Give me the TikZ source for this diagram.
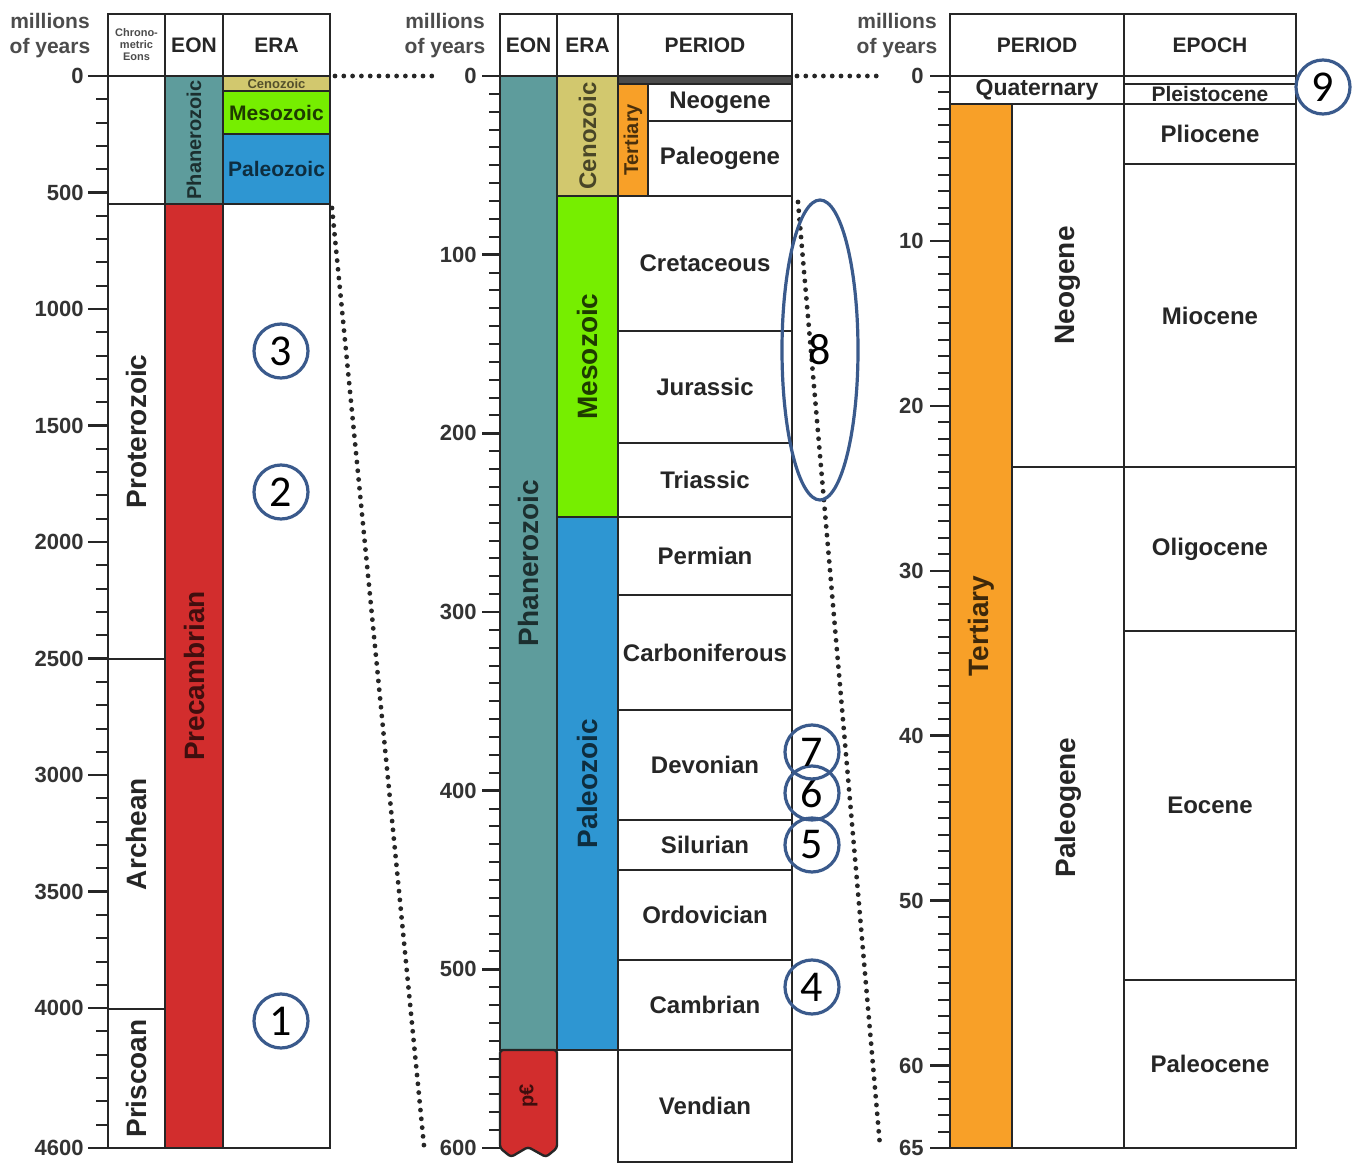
\documentclass[tikz,border=0pt]{standalone}
\usepackage{fontspec}
\setmainfont{Liberation Sans}
\newfontfamily\numfont{Carlito}
\usetikzlibrary{shapes.geometric}

\definecolor{phanero}{HTML}{5E9C9C}
\definecolor{precam}{HTML}{D22D2D}
\definecolor{meso}{HTML}{76EE00}
\definecolor{paleo}{HTML}{2E96D2}
\definecolor{ceno}{HTML}{D2C86E}
\definecolor{tert}{HTML}{F8A028}
\definecolor{circblue}{HTML}{3A5A8C}

% one box of the chart with its label in the middle
\newcommand{\gcell}[8][hlbl]{%
  \path[cellline, fill=#7] (#3,#4) rectangle (#5,#6);
  \node[#1] (#2) at ({(#3+#5)/2},{(#4+#6)/2}) {#8};}

\begin{document}
\begin{tikzpicture}[
        x=0.5pt, y=-0.5pt,
        cellline/.style={draw=black!85, line width=1.2pt},
        hlbl/.style={font=\fontsize{12}{14}\selectfont\bfseries, text=black!85, inner sep=0pt},
        hsmall/.style={font=\fontsize{10.5}{12}\selectfont\bfseries, text=black!85, inner sep=0pt},
        vlbl/.style={rotate=90, font=\fontsize{14}{16}\selectfont\bfseries, text=black!85, inner sep=0pt},
        vmid/.style={rotate=90, font=\fontsize{12}{14}\selectfont\bfseries, text=black!85, inner sep=0pt},
        vsmall/.style={rotate=90, font=\fontsize{10}{12}\selectfont\bfseries, text=black!85, inner sep=0pt},
        hdr/.style={font=\fontsize{10.5}{12}\selectfont\bfseries, text=black!85},
        tinyhdr/.style={align=center, font=\fontsize{5.5}{6}\selectfont\bfseries, text=black!70},
        unitlbl/.style={align=center, font=\fontsize{10.5}{12.5}\selectfont\bfseries, text=black!70},
        axlbl/.style={anchor=east, font=\fontsize{11}{12}\selectfont\bfseries, text=black!80, inner sep=0pt},
        minortk/.style={line width=1pt, black!85},
        majortk/.style={line width=1.2pt, black!85},
        zoomline/.style={line width=2.4pt, dash pattern=on 0pt off 4.4pt, line cap=round, black!85},
        numcirc/.style={circle, draw=circblue, line width=1.6pt, minimum size=27pt, inner sep=0pt,
            font=\numfont\fontsize{22}{22}\selectfont},
        numell/.style={ellipse, draw=circblue, line width=1.6pt, minimum width=38pt, minimum height=150pt,
            inner sep=0pt, font=\numfont\fontsize{22}{22}\selectfont}
    ]
    \useasboundingbox[fill=white] (0,0) rectangle (1356,1166);

    % left panel: 0 - 4600
    \node[unitlbl] (L-unit) at (50,36) {millions\\of years};
    \gcell[tinyhdr]{L-h-chrono}{108}{14}{165}{76}{white}{Chrono-\\metric\\Eons}
    \gcell[hdr]{L-h-eon}{165}{14}{223}{76}{white}{EON}
    \gcell[hdr]{L-h-era}{223}{14}{330}{76}{white}{ERA}
    \gcell{L-c-blank}{108}{76}{165}{204}{white}{}
    \gcell[vlbl]{L-c-prot}{108}{204}{165}{659}{white}{Proterozoic}
    \gcell[vlbl]{L-c-arch}{108}{659}{165}{1009}{white}{Archean}
    \gcell[vlbl]{L-c-prisc}{108}{1009}{165}{1148}{white}{Priscoan}
    \gcell[vsmall, text=phanero!30!black]{L-e-phan}{165}{76}{223}{204}{phanero}{Phanerozoic}
    \gcell[vlbl, text=precam!30!black]{L-e-prec}{165}{204}{223}{1148}{precam}{Precambrian}
    \gcell[font=\fontsize{6.5}{7}\selectfont\bfseries, text=ceno!40!black, inner sep=0pt]{L-a-ceno}{223}{76}{330}{91}{ceno}{Cenozoic}
    \gcell[hsmall, text=meso!25!black]{L-a-meso}{223}{91}{330}{134}{meso}{Mesozoic}
    \gcell[hsmall, text=paleo!30!black]{L-a-paleo}{223}{134}{330}{204}{paleo}{Paleozoic}
    \gcell{L-a-blank}{223}{204}{330}{1148}{white}{}
    \foreach \v in {0,100,...,4600}
        \draw[minortk] (96,{76+\v*0.23304}) -- (108,{76+\v*0.23304});
    \foreach \v in {0,500,...,4000} {
        \draw[majortk] (88,{76+\v*0.23304}) -- (108,{76+\v*0.23304});
        \node[axlbl] (L-t-\v) at (84,{76+\v*0.23304}) {\v};
    }
    \draw[majortk] (88,1148) -- (108,1148);
    \node[axlbl] (L-t-4600) at (84,1148) {4600};

    % middle panel: 0 - 600
    \node[unitlbl] (M-unit) at (445,36) {millions\\of years};
    \gcell[hdr]{M-h-eon}{500}{14}{557}{76}{white}{EON}
    \gcell[hdr]{M-h-era}{557}{14}{618}{76}{white}{ERA}
    \gcell[hdr]{M-h-per}{618}{14}{792}{76}{white}{PERIOD}
    \gcell[vlbl, text=phanero!30!black]{M-e-phan}{500}{76}{557}{1050}{phanero}{Phanerozoic}
    \path[cellline, fill=precam, rounded corners=1.5pt] (500,1050) -- (557,1050) -- (557,1148)
        -- (546,1157) -- (528,1147) -- (511,1157) -- (500,1148) -- cycle;
    \node[vsmall, text=precam!30!black] (M-e-pc) at (528.5,1096) {p€};
    \gcell[vmid, text=ceno!35!black]{M-a-ceno}{557}{76}{618}{196}{ceno}{Cenozoic}
    \gcell[vlbl, text=meso!25!black]{M-a-meso}{557}{196}{618}{517}{meso}{Mesozoic}
    \gcell[vlbl, text=paleo!30!black]{M-a-paleo}{557}{517}{618}{1050}{paleo}{Paleozoic}
    \gcell{M-p-quat}{618}{76}{792}{84}{black!70}{}
    \gcell[vsmall, text=tert!30!black]{M-p-tert}{618}{84}{648}{196}{tert}{Tertiary}
    \gcell{M-p-neo}{648}{84}{792}{121}{white}{Neogene}
    \gcell{M-p-paleog}{648}{121}{792}{196}{white}{Paleogene}
    \gcell{M-p-cret}{618}{196}{792}{331}{white}{Cretaceous}
    \gcell{M-p-jur}{618}{331}{792}{443}{white}{Jurassic}
    \gcell{M-p-tri}{618}{443}{792}{517}{white}{Triassic}
    \gcell{M-p-perm}{618}{517}{792}{595}{white}{Permian}
    \gcell{M-p-carb}{618}{595}{792}{710}{white}{Carboniferous}
    \gcell{M-p-dev}{618}{710}{792}{820}{white}{Devonian}
    \gcell{M-p-sil}{618}{820}{792}{870}{white}{Silurian}
    \gcell{M-p-ord}{618}{870}{792}{960}{white}{Ordovician}
    \gcell{M-p-camb}{618}{960}{792}{1050}{white}{Cambrian}
    \gcell{M-p-vend}{618}{1050}{792}{1162}{white}{Vendian}
    \foreach \v in {0,10,...,600}
        \draw[minortk] (489,{76+\v*1.78667}) -- (500,{76+\v*1.78667});
    \foreach \v in {0,100,...,600} {
        \draw[majortk] (482,{76+\v*1.78667}) -- (500,{76+\v*1.78667});
        \node[axlbl] (M-t-\v) at (477,{76+\v*1.78667}) {\v};
    }

    % right panel: 0 - 65
    \node[unitlbl] (R-unit) at (897,36) {millions\\of years};
    \gcell[hdr]{R-h-per}{950}{14}{1124}{76}{white}{PERIOD}
    \gcell[hdr]{R-h-epoch}{1124}{14}{1296}{76}{white}{EPOCH}
    \gcell[font=\fontsize{11.5}{12}\selectfont\bfseries, text=black!85, inner sep=0pt]{R-p-quat}{950}{76}{1124}{104}{white}{Quaternary}
    \gcell{R-x-holo}{1124}{76}{1296}{84}{white}{}
    \gcell[hsmall]{R-x-pleist}{1124}{84}{1296}{104}{white}{Pleistocene}
    \gcell[vlbl, text=tert!25!black]{R-p-tert}{950}{104}{1012}{1148}{tert}{Tertiary}
    \gcell[vlbl]{R-p-neo}{1012}{104}{1124}{467}{white}{Neogene}
    \gcell[vlbl]{R-p-paleog}{1012}{467}{1124}{1148}{white}{Paleogene}
    \gcell{R-x-plio}{1124}{104}{1296}{164}{white}{Pliocene}
    \gcell{R-x-mio}{1124}{164}{1296}{467}{white}{Miocene}
    \gcell{R-x-oligo}{1124}{467}{1296}{631}{white}{Oligocene}
    \gcell{R-x-eo}{1124}{631}{1296}{980}{white}{Eocene}
    \gcell{R-x-paleoc}{1124}{980}{1296}{1148}{white}{Paleocene}
    \foreach \v in {0,1,...,65}
        \draw[minortk] (938,{76+\v*16.4923}) -- (950,{76+\v*16.4923});
    \foreach \v in {0,10,...,60} {
        \draw[majortk] (930,{76+\v*16.4923}) -- (950,{76+\v*16.4923});
        \node[axlbl] (R-t-\v) at (924,{76+\v*16.4923}) {\v};
    }
    \draw[majortk] (930,1148) -- (950,1148);
    \node[axlbl] (R-t-65) at (924,1148) {65};

    % zoom guides
    \coordinate (Lz-a) at (335,76);
    \coordinate (Lz-b) at (432,76);
    \coordinate (Ld-a) at (332,208);
    \coordinate (Ld-b) at (424,1146);
    \coordinate (Mz-a) at (797,76);
    \coordinate (Mz-b) at (880,76);
    \coordinate (Md-a) at (798,202);
    \coordinate (Md-b) at (880,1146);
    \draw[zoomline] (Lz-a) -- (Lz-b);
    \draw[zoomline] (Ld-a) -- (Ld-b);
    \draw[zoomline] (Mz-a) -- (Mz-b);
    \draw[zoomline] (Md-a) -- (Md-b);

    % numbered marks
    \node[numcirc] (n1) at (281,1021) {1};
    \node[numcirc] (n2) at (281,492) {2};
    \node[numcirc] (n3) at (281,351) {3};
    \node[numcirc] (n4) at (812,987) {4};
    \node[numcirc] (n5) at (812,845) {5};
    \node[numcirc] (n6) at (812,793) {6};
    \node[numcirc] (n7) at (812,752) {7};
    \node[numell] (n8) at (820,350) {8};
    \node[numcirc] (n9) at (1323,87) {9};
\end{tikzpicture}
\end{document}
